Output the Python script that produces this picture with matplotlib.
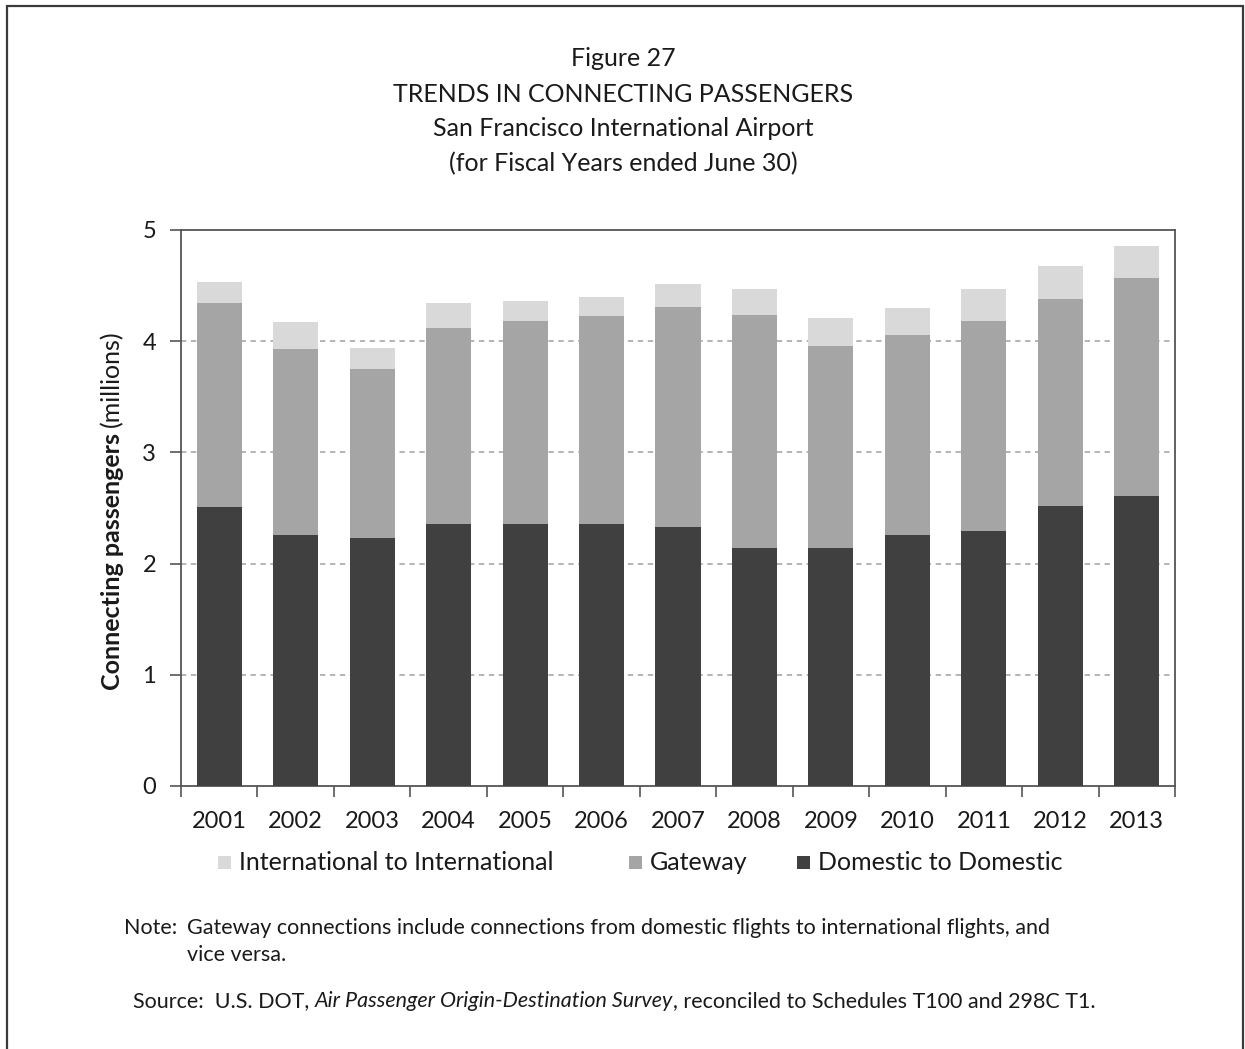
import matplotlib
matplotlib.use("Agg")
import matplotlib.pyplot as plt
import numpy as np
from matplotlib.patches import Rectangle

plt.rcParams['font.family'] = ['Lato', 'DejaVu Sans']

# Fiscal years and connecting passengers (millions) by connection type
years = ['2001', '2002', '2003', '2004', '2005', '2006', '2007',
         '2008', '2009', '2010', '2011', '2012', '2013']
domestic = [2.51, 2.26, 2.23, 2.36, 2.36, 2.36, 2.33, 2.14, 2.14, 2.26, 2.29, 2.52, 2.61]
gateway = [1.83, 1.67, 1.52, 1.76, 1.82, 1.87, 1.98, 2.10, 1.82, 1.80, 1.89, 1.86, 1.96]
international = [0.19, 0.24, 0.19, 0.22, 0.18, 0.17, 0.20, 0.23, 0.25, 0.24, 0.29, 0.30, 0.29]
series_names = ['International to International', 'Gateway', 'Domestic to Domestic']
y_ticks = [0, 1, 2, 3, 4, 5]

c_dom = '#404040'
c_gw = '#a5a5a5'
c_int = '#d9d9d9'
txt = '#1a1a1a'

W, H = 1245, 1049
fig = plt.figure(figsize=(W / 100, H / 100), dpi=100)

# outer frame (open at the bottom edge of the page)
fig.add_artist(Rectangle((7 / W, -0.05), (1243 - 7) / W, 1.05 - 6 / H,
                         transform=fig.transFigure, fill=False,
                         edgecolor='#3a3a3a', linewidth=1.6, clip_on=False))

ax = fig.add_axes([181 / W, 1 - 786 / H, (1175 - 181) / W, (786 - 230) / H])

x = np.arange(len(years))
bw = 0.59
dom = np.array(domestic)
gw = np.array(gateway)
intl = np.array(international)
ax.bar(x, dom, bw, color=c_dom, zorder=3)
ax.bar(x, gw, bw, bottom=dom, color=c_gw, zorder=3)
ax.bar(x, intl, bw, bottom=dom + gw, color=c_int, zorder=3)

ax.set_xlim(-0.5, len(years) - 0.5)
ax.set_ylim(0, 5)
ax.set_yticks(y_ticks)
ax.set_yticklabels([str(v) for v in y_ticks], fontsize=17, color=txt)
for v in y_ticks[1:-1]:
    ax.axhline(v, color='#a0a0a0', linestyle=(0, (3.5, 3)), linewidth=1.1, zorder=1)

# year labels centred under bars, tick marks on category boundaries
ax.set_xticks(np.arange(-0.5, len(years)), minor=False)
ax.set_xticklabels([])
ax.set_xticks(x, minor=True)
ax.set_xticklabels(years, minor=True, fontsize=17, color=txt)
ax.tick_params(axis='x', which='minor', length=0, pad=18)
ax.tick_params(axis='x', which='major', length=8, width=1.2, color='#555555', direction='out')
ax.tick_params(axis='y', length=8, width=1.2, color='#555555', direction='out', pad=10)

for s in ax.spines.values():
    s.set_color('#555555')
    s.set_linewidth(1.3)

# title block
title_lines = ['Figure 27', 'TRENDS IN CONNECTING PASSENGERS',
               'San Francisco International Airport',
               '(for Fiscal Years ended June 30)']
for i, line in enumerate(title_lines):
    fig.text(623 / W, 1 - (59 + 35 * i) / H, line, ha='center', va='center',
             fontsize=18, color=txt)

# legend: colour swatch followed by series name
legend_items = [(218, c_int), (629, c_gw), (797, c_dom)]
for (lx, col), name in zip(legend_items, series_names):
    fig.add_artist(Rectangle((lx / W, 1 - 869 / H), 13 / W, 13 / H,
                             transform=fig.transFigure, facecolor=col,
                             edgecolor='none'))
    fig.text((lx + 21) / W, 1 - 862 / H, name, ha='left', va='center',
             fontsize=18, color=txt)

fig.canvas.draw()
renderer = fig.canvas.get_renderer()

# y-axis label: bold lead-in followed by regular unit
ylab_x = 112 / W
t1 = fig.text(ylab_x, 1 - 690 / H, 'Connecting passengers', rotation=90,
              ha='center', va='bottom', fontsize=18, fontweight='bold', color=txt)
bb = t1.get_window_extent(renderer)
t2 = fig.text(ylab_x, (bb.y1 + 6) / H, '(millions)', rotation=90,
              ha='center', va='bottom', fontsize=18, color=txt)


def run_text(x0, y, parts, size=15.5):
    """Draw consecutive text pieces on one baseline, left to right."""
    xp = x0
    for s, style in parts:
        t = fig.text(xp / W, 1 - y / H, s, ha='left', va='baseline',
                     fontsize=size, style=style, color=txt)
        xp = t.get_window_extent(renderer).x1
    return xp


run_text(124, 934, [('Note:', 'normal')])
run_text(187, 934, [('Gateway connections include connections from domestic flights to '
                     'international flights, and', 'normal')])
run_text(187, 961, [('vice versa.', 'normal')])
run_text(133, 1007, [('Source:  U.S. DOT, ', 'normal'),
                     ('Air Passenger Origin-Destination Survey', 'italic'),
                     (', reconciled to Schedules T100 and 298C T1.', 'normal')])

fig.savefig('out.png', dpi=100)
